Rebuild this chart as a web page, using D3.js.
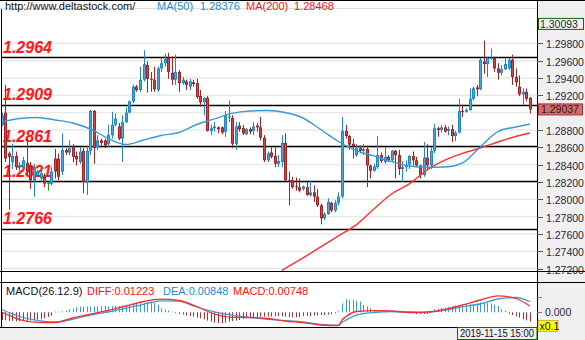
<!DOCTYPE html>
<html><head><meta charset="utf-8">
<script src="https://cdn.jsdelivr.net/npm/d3@7"></script>
<style>
body{margin:0;background:#fff}
svg{display:block}
text{font-family:"Liberation Sans",Arial,sans-serif}
</style>
</head><body>
<svg id="chart" width="585" height="340"></svg>
<script>
// Hourly candles: [open, high, low, close]
const ohlc = [
[1.2886,1.2900,1.2884,1.2897],[1.2900,1.2932,1.2843,1.2847],[1.2853,1.2855,1.2788,1.2849],[1.2843,1.2864,1.2835,1.2850],
[1.2850,1.2855,1.2834,1.2837],[1.2837,1.2843,1.2832,1.2839],[1.2837,1.2849,1.2832,1.2845],[1.2842,1.2872,1.2828,1.2832],
[1.2839,1.2843,1.2812,1.2822],[1.2822,1.2841,1.2803,1.2837],[1.2828,1.2834,1.2826,1.2832],[1.2824,1.2835,1.2820,1.2830],
[1.2826,1.2830,1.2814,1.2818],[1.2818,1.2820,1.2810,1.2818],[1.2818,1.2837,1.2816,1.2832],[1.2847,1.2858,1.2824,1.2832],
[1.2847,1.2853,1.2822,1.2826],[1.2832,1.2876,1.2828,1.2857],[1.2857,1.2859,1.2851,1.2854],[1.2854,1.2868,1.2851,1.2859],
[1.2860,1.2864,1.2843,1.2849],[1.2850,1.2855,1.2839,1.2846],[1.2843,1.2860,1.2841,1.2855],[1.2856,1.2859,1.2807,1.2820],
[1.2819,1.2862,1.2805,1.2856],[1.2856,1.2903,1.2851,1.2902],[1.2902,1.2903,1.2841,1.2859],[1.2860,1.2874,1.2857,1.2868],
[1.2868,1.2870,1.2862,1.2865],[1.2868,1.2870,1.2859,1.2862],[1.2864,1.2886,1.2860,1.2874],[1.2874,1.2901,1.2870,1.2886],
[1.2886,1.2899,1.2884,1.2893],[1.2884,1.2888,1.2868,1.2870],[1.2870,1.2897,1.2843,1.2889],[1.2889,1.2906,1.2888,1.2900],
[1.2900,1.2914,1.2899,1.2913],[1.2913,1.2932,1.2911,1.2930],[1.2930,1.2932,1.2924,1.2926],[1.2926,1.2953,1.2924,1.2938],
[1.2938,1.2972,1.2936,1.2956],[1.2955,1.2959,1.2923,1.2939],[1.2939,1.2947,1.2924,1.2938],[1.2938,1.2953,1.2924,1.2927],
[1.2926,1.2953,1.2924,1.2951],[1.2951,1.2963,1.2947,1.2957],[1.2957,1.2968,1.2953,1.2962],[1.2963,1.2969,1.2939,1.2947],
[1.2946,1.2965,1.2932,1.2938],[1.2938,1.2967,1.2932,1.2947],[1.2947,1.2949,1.2924,1.2934],[1.2934,1.2941,1.2932,1.2938],
[1.2936,1.2938,1.2926,1.2932],[1.2930,1.2939,1.2926,1.2936],[1.2935,1.2938,1.2930,1.2933],[1.2934,1.2939,1.2916,1.2918],
[1.2919,1.2926,1.2907,1.2912],[1.2912,1.2918,1.2897,1.2917],[1.2917,1.2919,1.2878,1.2879],[1.2879,1.2886,1.2874,1.2882],
[1.2882,1.2889,1.2878,1.2884],[1.2883,1.2884,1.2876,1.2881],[1.2883,1.2884,1.2875,1.2877],[1.2878,1.2902,1.2872,1.2897],
[1.2895,1.2914,1.2889,1.2895],[1.2894,1.2897,1.2859,1.2864],[1.2864,1.2889,1.2857,1.2884],[1.2885,1.2889,1.2878,1.2881],
[1.2882,1.2886,1.2874,1.2876],[1.2875,1.2882,1.2874,1.2881],[1.2881,1.2883,1.2875,1.2878],[1.2879,1.2889,1.2874,1.2884],
[1.2885,1.2888,1.2878,1.2883],[1.2883,1.2895,1.2868,1.2871],[1.2871,1.2874,1.2843,1.2845],[1.2845,1.2855,1.2843,1.2853],
[1.2854,1.2860,1.2847,1.2849],[1.2850,1.2860,1.2837,1.2841],[1.2841,1.2851,1.2837,1.2844],[1.2843,1.2874,1.2837,1.2865],
[1.2865,1.2876,1.2821,1.2822],[1.2822,1.2832,1.2793,1.2821],[1.2822,1.2826,1.2812,1.2814],[1.2815,1.2825,1.2810,1.2814],
[1.2814,1.2824,1.2808,1.2810],[1.2812,1.2816,1.2810,1.2815],[1.2814,1.2820,1.2804,1.2805],[1.2805,1.2822,1.2803,1.2808],
[1.2808,1.2816,1.2797,1.2803],[1.2803,1.2812,1.2791,1.2793],[1.2793,1.2795,1.2771,1.2778],[1.2778,1.2785,1.2776,1.2783],
[1.2783,1.2801,1.2782,1.2797],[1.2796,1.2797,1.2785,1.2787],[1.2787,1.2799,1.2785,1.2796],[1.2796,1.2808,1.2793,1.2803],
[1.2803,1.2895,1.2801,1.2879],[1.2879,1.2886,1.2870,1.2873],[1.2873,1.2874,1.2857,1.2863],[1.2864,1.2870,1.2847,1.2861],
[1.2851,1.2864,1.2849,1.2859],[1.2859,1.2862,1.2853,1.2856],[1.2856,1.2864,1.2851,1.2858],[1.2858,1.2862,1.2814,1.2839],
[1.2839,1.2840,1.2824,1.2833],[1.2833,1.2841,1.2832,1.2838],[1.2837,1.2873,1.2835,1.2851],[1.2851,1.2854,1.2842,1.2844],
[1.2843,1.2860,1.2841,1.2849],[1.2849,1.2851,1.2843,1.2845],[1.2845,1.2857,1.2843,1.2856],[1.2856,1.2857,1.2824,1.2851],
[1.2851,1.2857,1.2828,1.2835],[1.2835,1.2844,1.2820,1.2837],[1.2837,1.2845,1.2832,1.2840],[1.2840,1.2851,1.2835,1.2850],
[1.2850,1.2855,1.2839,1.2845],[1.2845,1.2849,1.2837,1.2839],[1.2839,1.2840,1.2824,1.2828],[1.2828,1.2866,1.2826,1.2848],
[1.2848,1.2864,1.2834,1.2839],[1.2839,1.2860,1.2835,1.2856],[1.2856,1.2887,1.2853,1.2882],[1.2882,1.2884,1.2872,1.2880],
[1.2880,1.2886,1.2877,1.2883],[1.2883,1.2886,1.2877,1.2878],[1.2879,1.2884,1.2874,1.2881],[1.2881,1.2886,1.2866,1.2873],
[1.2873,1.2879,1.2867,1.2877],[1.2877,1.2916,1.2876,1.2902],[1.2902,1.2909,1.2895,1.2901],[1.2901,1.2905,1.2900,1.2903],
[1.2903,1.2928,1.2902,1.2916],[1.2916,1.2930,1.2914,1.2928],[1.2929,1.2932,1.2919,1.2927],[1.2927,1.2963,1.2926,1.2961],
[1.2959,1.2983,1.2945,1.2956],[1.2956,1.2964,1.2941,1.2963],[1.2962,1.2974,1.2961,1.2963],[1.2963,1.2964,1.2947,1.2951],
[1.2951,1.2957,1.2938,1.2946],[1.2946,1.2955,1.2943,1.2950],[1.2950,1.2963,1.2949,1.2956],[1.2951,1.2963,1.2949,1.2961],
[1.2961,1.2967,1.2932,1.2941],[1.2941,1.2951,1.2930,1.2935],[1.2930,1.2943,1.2919,1.2921],[1.2921,1.2928,1.2909,1.2924],
[1.2924,1.2928,1.2913,1.2916],[1.2917,1.2918,1.2899,1.29037]
];

// Moving averages, [bar index, value]
const ma50 = [[0,1.28892],[5,1.28932],[10,1.28944],[15,1.28915],[20,1.28880],[25,1.28811],[30,1.28702],[35,1.28632],
[40,1.28684],[45,1.28736],[50,1.28771],[55,1.28863],[60,1.28927],[65,1.28992],[70,1.29019],[75,1.29025],[80,1.29002],
[85,1.28938],[90,1.28805],[95,1.28667],[100,1.28563],[105,1.28500],[110,1.28436],[115,1.28384],[120,1.28370],
[126,1.28376],[130,1.28419],[135,1.28603],[140,1.28782],[145,1.28834],[149,1.28869]];
const ma200 = [[79,1.27179],[85,1.27323],[90,1.27450],[95,1.27577],[100,1.27704],[105,1.27888],[110,1.28061],
[115,1.28177],[120,1.28338],[126,1.28468],[130,1.28529],[135,1.28592],[140,1.28661],[145,1.28725],[149,1.28765]];

// MACD(26,12,9)
const diff = [[0,0.00096],[5,-0.02308],[10,-0.03205],[15,-0.03269],[20,-0.01827],[25,-0.00609],[30,0.00609],[35,0.02019],
[40,0.03462],[45,0.04199],[50,0.03782],[55,0.01859],[60,-0.00545],[65,-0.01603],[70,-0.01667],[75,-0.01987],[80,-0.02788],
[85,-0.03301],[90,-0.04070],[95,-0.04231],[96,-0.02468],[97,-0.01506],[100,0.00256],[105,0.00513],[110,0.00417],
[115,-0.00064],[120,0.00096],[126,0.01223],[130,0.02340],[135,0.03942],[140,0.05288],[145,0.04423],[149,0.02019]];
const dea = [[0,0.00897],[5,-0.01346],[10,-0.02564],[15,-0.03109],[20,-0.02244],[25,-0.00865],[30,0.00096],[35,0.01282],
[40,0.02564],[45,0.03686],[50,0.03558],[55,0.01699],[60,0.00160],[65,-0.00929],[70,-0.01667],[75,-0.02244],[80,-0.02660],
[85,-0.03109],[90,-0.03878],[95,-0.04167],[96,-0.03269],[97,-0.02628],[100,-0.00929],[105,-0.00064],[110,0.00192],
[115,0.00096],[120,0.00000],[126,0.00848],[130,0.01763],[135,0.02660],[140,0.04263],[145,0.04744],[149,0.03397]];
const hist = [
-0.01155,-0.0120,-0.01275,-0.01305,-0.0135,-0.0135,-0.01305,-0.01275,-0.01245,-0.0120,
-0.01095,-0.0105,-0.0090,-0.00705,-0.00495,0.00105,0.00105,0.0015,0.00255,0.0045,
0.0060,0.0075,0.00855,0.00855,0.00855,0.00855,0.0090,0.0090,0.00945,0.0090,
0.00855,0.0090,0.00945,0.00945,0.01005,0.0105,0.01095,0.01245,0.0135,0.01395,
0.01455,0.01545,0.01605,0.01395,0.01095,0.0060,0.00405,0.00255,0.00105,-0.00105,
-0.00255,-0.00345,-0.0045,-0.00555,-0.00645,-0.00795,-0.0090,-0.0105,-0.01245,-0.01395,
-0.01545,-0.01605,-0.0165,-0.01545,-0.01395,-0.01305,-0.01245,-0.01155,-0.01005,-0.0090,
-0.00795,-0.0075,-0.00705,-0.00645,-0.00645,-0.00645,-0.00645,-0.0060,-0.00555,-0.0060,
-0.00645,-0.00705,-0.0075,-0.0075,-0.00705,-0.00555,-0.00555,-0.00555,-0.00495,-0.0045,
-0.00405,-0.00405,-0.00345,-0.0030,-0.0015,0.0015,0.0135,0.0195,0.01845,0.01845,
0.01755,0.01605,0.01095,0.00855,0.0060,0.00345,0.00345,0.00345,0.00345,0.0030,
0.0015,0.0015,0.0015,0.0015,0.0015,0.00105,0.00105,-0.00255,-0.00255,-0.00255,
-0.00255,0.00195,0.0045,0.00555,0.00645,0.00705,0.00748,0.00855,0.01005,0.01095,
0.01155,0.0120,0.01245,0.01245,0.0135,0.01455,0.01455,0.01395,0.0135,0.01155,
0.00945,0.0045,0.00195,-0.00195,-0.00405,-0.0060,-0.00795,-0.0105,-0.0120,-0.01395
];

const levels = [1.2964, 1.2909, 1.2861, 1.2821, 1.2766];
const priceTicks = [1.298,1.296,1.294,1.292,1.290,1.288,1.286,1.284,1.282,1.280,1.278,1.276,1.274,1.272];
const topPrice = 1.30093;
const cursorBar = 126;
const lastTime = "2019-11-15 15:00";

const svg = d3.select("#chart");
const W = 585, H = 340, plotR = 537;
const mainTop = 9, mainBot = 271, macdTop = 282, macdBot = 327;

const x = d3.scaleBand().domain(d3.range(ohlc.length)).range([0, 531.6]);
const cx = i => x(i) + x.bandwidth() / 2;
const y = d3.scaleLinear().domain([1.272, 1.298]).range([268.6, 43.3]);
const yM = d3.scaleLinear().domain([0, 0.05]).range([312.3, 296.7]);
const yH = d3.scaleLinear().domain([0, 0.00748]).range([312.3, 307.3]);

// backgrounds
svg.append("rect").attr("width", W).attr("height", H).attr("fill", "#fff");
svg.append("rect").attr("x", plotR).attr("y", 0).attr("width", W - plotR).attr("height", H).attr("fill", "#f0f0f0");
svg.append("rect").attr("x", 0).attr("y", macdBot).attr("width", W).attr("height", H - macdBot).attr("fill", "#f0f0f0");

const defs = svg.append("defs");
defs.append("clipPath").attr("id", "clipMain").append("rect")
  .attr("x", 1).attr("y", mainTop).attr("width", plotR - 1).attr("height", mainBot - mainTop);
defs.append("clipPath").attr("id", "clipMacd").append("rect")
  .attr("x", 1).attr("y", macdTop).attr("width", plotR - 1).attr("height", macdBot - macdTop);

const main = svg.append("g").attr("clip-path", "url(#clipMain)");

// grid
main.selectAll("line.grid").data(priceTicks).join("line")
  .attr("x1", 0).attr("x2", plotR).attr("y1", d => y(d)).attr("y2", d => y(d))
  .attr("stroke", "#e8e8e8").attr("stroke-width", 1.5);

// support / resistance labels under the candles, then their lines
main.selectAll("text.lvl").data(levels).join("text")
  .attr("x", 3).attr("y", d => y(d) - 4.5)
  .attr("fill", "#ff1a1a").attr("font-size", 16).attr("font-weight", "bold").attr("font-style", "italic")
  .attr("stroke", "#ffd0d0").attr("stroke-width", 0.6).attr("paint-order", "stroke")
  .text(d => d.toFixed(4));
main.selectAll("line.lvl").data(levels).join("line")
  .attr("x1", 0).attr("x2", plotR).attr("y1", d => Math.round(y(d)) + 0.5).attr("y2", d => Math.round(y(d)) + 0.5)
  .attr("stroke", "#000").attr("stroke-width", 1.6);

// candles: blue up, red down, green unchanged
const colorOf = d => d[3] > d[0] ? ["#1f86c4", "#4aa8df"] : d[3] < d[0] ? ["#a02424", "#c94a4a"] : ["#1a9a1a", "#1a9a1a"];
const cg = main.append("g");
ohlc.forEach((d, i) => {
  const px = Math.round(cx(i));
  const [edge, fill] = colorOf(d);
  cg.append("line").attr("x1", px + 0.5).attr("x2", px + 0.5)
    .attr("y1", y(d[1])).attr("y2", y(d[2])).attr("stroke", edge).attr("stroke-width", 1);
  const top = y(Math.max(d[0], d[3])), bot = y(Math.min(d[0], d[3]));
  if (d[0] === d[3]) {
    cg.append("line").attr("x1", px - 1).attr("x2", px + 2).attr("y1", top).attr("y2", top)
      .attr("stroke", edge).attr("stroke-width", 1);
  } else {
    cg.append("rect").attr("x", px - 1).attr("y", top).attr("width", 3).attr("height", Math.max(1, bot - top)).attr("fill", edge);
    if (bot - top > 2) cg.append("rect").attr("x", px).attr("y", top + 1).attr("width", 1).attr("height", bot - top - 2).attr("fill", fill);
  }
});

// moving averages
const maLine = d3.line().x(d => cx(d[0])).y(d => y(d[1])).curve(d3.curveMonotoneX);
main.append("path").attr("d", maLine(ma200)).attr("fill", "none").attr("stroke", "#ff3030").attr("stroke-width", 1.4);
main.append("path").attr("d", maLine(ma50)).attr("fill", "none").attr("stroke", "#3a9ad9").attr("stroke-width", 1.4);

// frame lines
const frame = svg.append("g").attr("stroke", "#000");
frame.append("line").attr("x1", 0).attr("x2", W).attr("y1", 0.5).attr("y2", 0.5);
frame.append("line").attr("x1", 0).attr("x2", plotR).attr("y1", mainTop - 0.5).attr("y2", mainTop - 0.5).attr("stroke", "#dcdcdc");
frame.append("line").attr("x1", 1.5).attr("x2", 1.5).attr("y1", mainTop).attr("y2", macdBot);
frame.append("line").attr("x1", plotR + 0.5).attr("x2", plotR + 0.5).attr("y1", 0).attr("y2", H);
frame.append("line").attr("x1", 0).attr("x2", W).attr("y1", mainBot + 0.5).attr("y2", mainBot + 0.5);
frame.append("line").attr("x1", 0).attr("x2", W).attr("y1", macdTop + 0.5).attr("y2", macdTop + 0.5);
frame.append("line").attr("x1", 0).attr("x2", plotR).attr("y1", macdBot + 0.5).attr("y2", macdBot + 0.5);

// price axis
const ax = svg.append("g");
const last = ohlc[ohlc.length - 1][3];
const lb = y(last);
priceTicks.forEach(p => {
  const ty = Math.round(y(p)) + 0.5;
  ax.append("line").attr("x1", plotR).attr("x2", plotR + 6).attr("y1", ty).attr("y2", ty).attr("stroke", "#555");
  if (Math.abs(ty - lb) > 10)
    ax.append("text").attr("x", plotR + 9).attr("y", ty + 4).attr("font-size", 10.5).attr("fill", "#1a2a40").text(p.toFixed(5));
});
// top-of-scale and last-price boxes
const tb = y(topPrice);
ax.append("rect").attr("x", plotR + 1.5).attr("y", tb + 0.5).attr("width", W - plotR - 3).attr("height", 11)
  .attr("fill", "#f0f0f0").attr("stroke", "#0a6a0a");
ax.append("text").attr("x", plotR + 3).attr("y", tb + 10).attr("font-size", 10.5).attr("fill", "#1a2a40").text(topPrice.toFixed(5));
ax.append("rect").attr("x", plotR + 1.5).attr("y", lb - 5.5).attr("width", 44).attr("height", 11)
  .attr("fill", "#d46a6a").attr("stroke", "#a83030");
ax.append("text").attr("x", plotR + 4).attr("y", lb + 4).attr("font-size", 10.5).attr("fill", "#2a1a1a").text(last.toFixed(5));

// header
const hdr = svg.append("g").attr("font-size", 11);
hdr.append("text").attr("x", 5).attr("y", 10).attr("fill", "#111").text("http://www.deltastock.com/");
hdr.append("text").attr("x", 157).attr("y", 10).attr("fill", "#1e8ad6").text("MA(50)");
hdr.append("text").attr("x", 200).attr("y", 10).attr("fill", "#1e8ad6").text(d3.format(".5f")(ma50.find(d => d[0] === cursorBar)[1]));
hdr.append("text").attr("x", 246).attr("y", 10).attr("fill", "#ff1010").text("MA(200)");
hdr.append("text").attr("x", 294).attr("y", 10).attr("fill", "#ff1010").text(d3.format(".5f")(ma200.find(d => d[0] === cursorBar)[1]));

// MACD panel
const mg = svg.append("g").attr("clip-path", "url(#clipMacd)");
hist.forEach((v, i) => {
  const px = Math.round(cx(i)) + 0.5;
  mg.append("line").attr("x1", px).attr("x2", px).attr("y1", yH(0)).attr("y2", yH(v))
    .attr("stroke", v >= 0 ? "#3a9ad9" : "#a83030").attr("stroke-width", 1);
});
const mLine = d3.line().x(d => cx(d[0])).y(d => yM(d[1])).curve(d3.curveMonotoneX);
mg.append("path").attr("d", mLine(dea)).attr("fill", "none").attr("stroke", "#3a9ad9").attr("stroke-width", 1.3);
mg.append("path").attr("d", mLine(diff)).attr("fill", "none").attr("stroke", "#ff2a2a").attr("stroke-width", 1.3);

const mh = svg.append("g").attr("font-size", 11);
const fmt5 = d3.format(".5f");
mh.append("text").attr("x", 6).attr("y", 295).attr("fill", "#111").text("MACD(26.12.9)");
mh.append("text").attr("x", 87).attr("y", 295).attr("fill", "#ff1010").text("DIFF:" + fmt5(diff.find(d => d[0] === cursorBar)[1]));
mh.append("text").attr("x", 163).attr("y", 295).attr("fill", "#1e8ad6").text("DEA:" + fmt5(dea.find(d => d[0] === cursorBar)[1]));
mh.append("text").attr("x", 233).attr("y", 295).attr("fill", "#ff1010").text("MACD:" + fmt5(hist[cursorBar]));

// MACD axis
[0, 0.05].forEach(v => {
  const ty = Math.round(yM(v)) + 0.5;
  ax.append("line").attr("x1", plotR).attr("x2", plotR + 5).attr("y1", ty).attr("y2", ty).attr("stroke", "#777");
});
ax.append("text").attr("x", plotR + 8).attr("y", yM(0) + 4).attr("font-size", 10.5).attr("fill", "#1a2a40").text("0.000");
ax.append("rect").attr("x", plotR + 1).attr("y", 320.5).attr("width", 20).attr("height", 11).attr("fill", "#ffff00").attr("stroke", "#888800").attr("stroke-width", 0.5);
ax.append("text").attr("x", plotR + 2.5).attr("y", 330).attr("font-size", 10.5).attr("fill", "#111").text("x0.1");

// time label
svg.append("rect").attr("x", 457.5).attr("y", macdBot + 0.5).attr("width", plotR - 457.5).attr("height", 12)
  .attr("fill", "#f0f0f0").attr("stroke", "#0a6a0a");
svg.append("text").attr("x", 460).attr("y", 337).attr("font-size", 10.5).attr("fill", "#111")
  .attr("textLength", 74).attr("lengthAdjust", "spacingAndGlyphs").text(lastTime);
</script>
</body></html>
